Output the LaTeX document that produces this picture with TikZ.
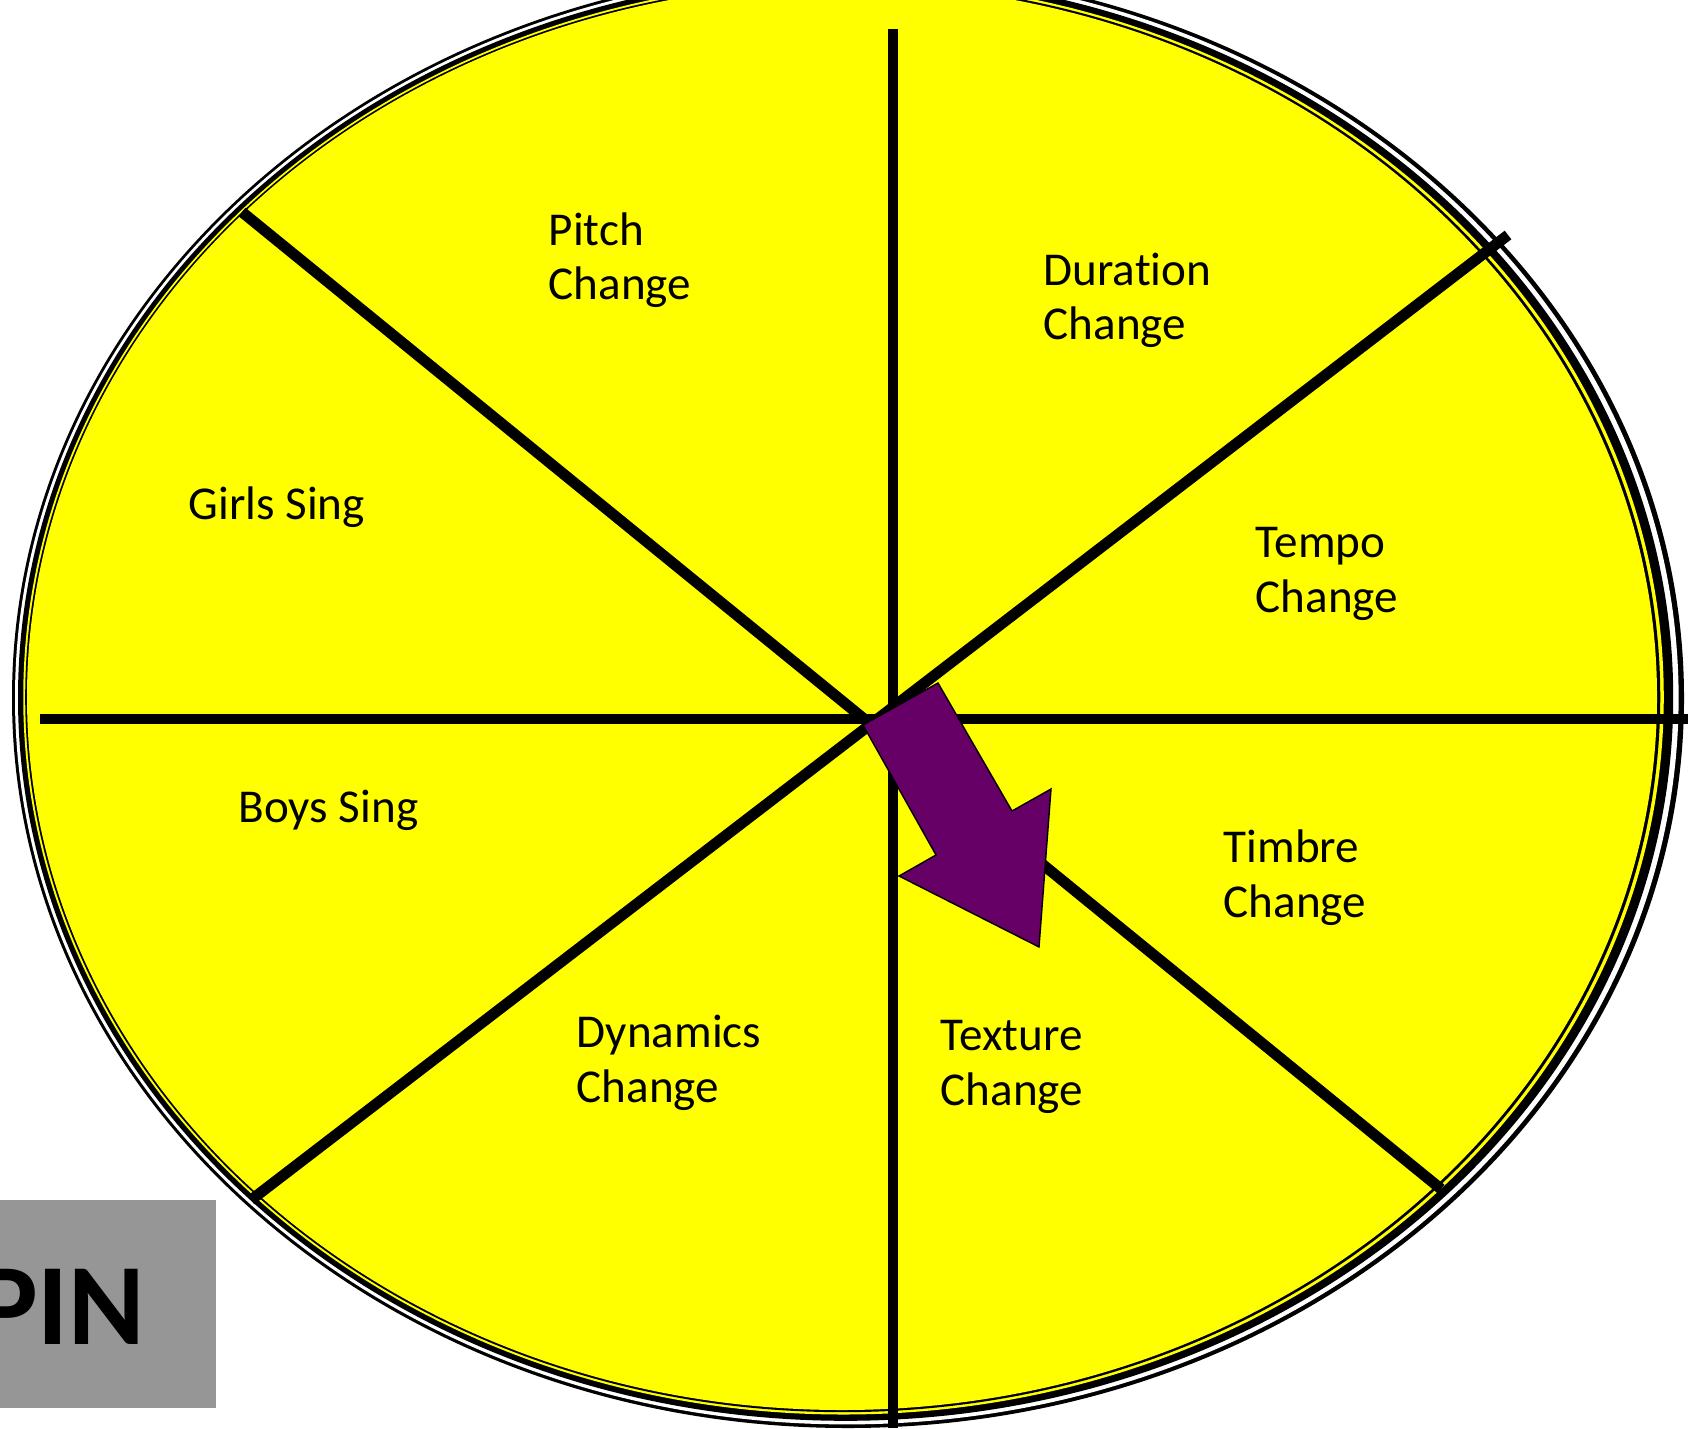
\documentclass[tikz,border=0pt]{standalone}
\usepackage{fontspec}
\setmainfont{Carlito}[Ligatures=NoCommon]
\definecolor{wheelyellow}{RGB}{255,255,0}
\definecolor{pointerpurple}{RGB}{102,0,102}
\definecolor{pingray}{RGB}{150,150,150}

\begin{document}
\begin{tikzpicture}[
    x=0.01cm, y=-0.01cm,
    every node/.style={font=\fontsize{13.4pt}{15.4pt}\selectfont},
    spoke/.style={line width=3.1pt, black},
    sector/.style={align=left, inner sep=0pt, anchor=base west},
    pointer/.style={fill=pointerpurple, draw=black, line width=0.4pt, line join=miter},
]
\useasboundingbox (0,0) rectangle (1695,1428);

% ---- Wheel with its rim ----
\foreach \t/\c in {1/black, 0.8/white, 0.6/black, 0.25/wheelyellow, 0.12/black, 0/wheelyellow}
    \fill[\c] ({842+6*\t},{697+\t}) ellipse [x radius={815+21*\t}, y radius={713+17*\t}];

% ---- Spokes ----
\draw[spoke] (893,29) -- (893,1428);
\draw[spoke] (40,719) -- (1688,719);
\draw[spoke] (242,212) -- (1441,1189);
\draw[spoke] (1508,235) -- (251,1200);

% ---- Sectors (base = last line) ----
\node[sector] (pitch) at (548,300) {Pitch\\Change};
\node[sector] (duration) at (1043,340) {Duration\\Change};
\node[sector] (girls) at (188,519) {Girls Sing};
\node[sector] (tempo) at (1255,612) {Tempo\\Change};
\node[sector] (boys) at (238,822) {Boys Sing};
\node[sector] (timbre) at (1223,917) {Timbre\\Change};
\node[sector] (dynamics) at (576,1102) {Dynamics\\Change};
\node[sector] (texture) at (940,1105) {Texture\\Change};

% ---- Pointer ----
\draw[pointer] (863,725) -- (938,683) -- (1012,811) -- (1051,789) -- (1039,947)
    -- (899,876) -- (936,855) -- cycle;

% ---- Spin button ----
\fill[pingray] (0,1200) rectangle (216,1408);
\node[font=\fontsize{33pt}{33pt}\selectfont\bfseries, anchor=base east, inner sep=0pt] (spin) at (146,1344) {PIN};

\end{tikzpicture}
\end{document}
